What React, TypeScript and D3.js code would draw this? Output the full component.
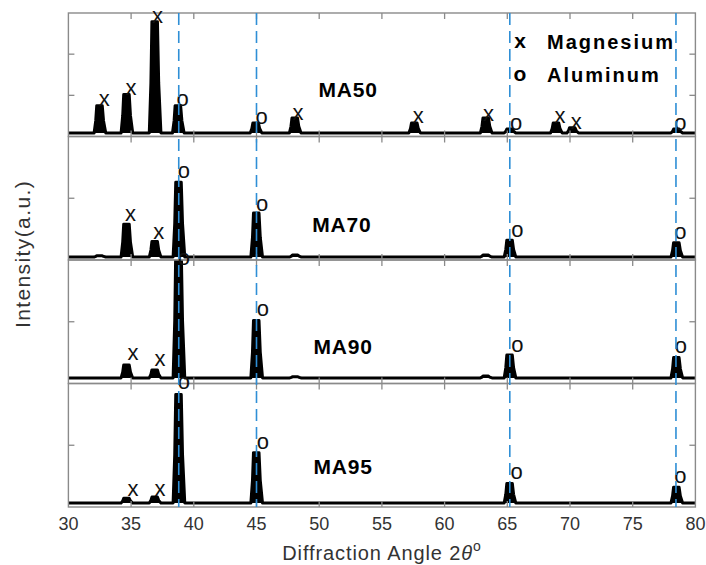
import React from "react";
import * as d3 from "d3";

const W = 706;
const H = 565;
const PLOT = { left: 68.4, right: 695.4, top: 13, bottom: 507 };

const sampleNames = ["MA50", "MA70", "MA90", "MA95"];
const xTicks = [30, 35, 40, 45, 50, 55, 60, 65, 70, 75, 80];
const refLines = [38.8, 45.0, 65.2, 78.45];

// baseline level of each trace (fraction of panel height)
const baselines = [0.028, 0.024, 0.045, 0.032];

// peak angles / relative heights
const ma50Angles = [32.5, 34.65, 36.9, 38.75, 44.95, 48.07, 57.6, 63.3, 65.2, 68.9, 70.2, 78.5];
const ma50Heights = [0.25, 0.34, 0.93, 0.25, 0.11, 0.15, 0.11, 0.15, 0.06, 0.11, 0.07, 0.06];
const ma70Angles = [32.5, 34.65, 36.9, 38.8, 45.0, 48.1, 63.3, 65.2, 78.5];
const ma70Heights = [0.035, 0.29, 0.15, 0.63, 0.38, 0.04, 0.04, 0.16, 0.14];
const ma90Angles = [34.65, 36.9, 38.8, 45.0, 48.1, 63.3, 65.2, 78.5];
const ma90Heights = [0.15, 0.11, 1.08, 0.51, 0.055, 0.06, 0.23, 0.21];
const ma95Angles = [34.65, 36.9, 38.8, 45.0, 65.2, 78.5];
const ma95Heights = [0.07, 0.08, 0.91, 0.44, 0.19, 0.16];

// phase marks: angle, level, symbol
const ma50Marks: [number, number, string][] = [
  [32.85, 0.29, "x"], [35.0, 0.38, "x"], [37.1, 0.97, "x"], [39.1, 0.29, "o"],
  [45.4, 0.15, "o"], [48.3, 0.18, "x"], [57.9, 0.16, "x"], [63.5, 0.17, "x"],
  [65.7, 0.1, "o"], [69.2, 0.16, "x"], [70.5, 0.11, "x"], [78.8, 0.1, "o"],
];
const ma70Marks: [number, number, string][] = [
  [34.95, 0.36, "x"], [37.2, 0.22, "x"], [39.2, 0.71, "o"], [45.45, 0.445, "o"],
  [65.8, 0.23, "o"], [78.8, 0.22, "o"],
];
const ma90Marks: [number, number, string][] = [
  [35.15, 0.24, "x"], [37.3, 0.19, "x"], [39.2, 1.01, "o"], [45.5, 0.59, "o"],
  [65.8, 0.30, "o"], [78.85, 0.29, "o"],
];
const ma95Marks: [number, number, string][] = [
  [35.15, 0.14, "x"], [37.3, 0.14, "x"], [39.2, 1.0, "o"], [45.5, 0.52, "o"],
  [65.75, 0.27, "o"], [78.8, 0.245, "o"],
];

// label positions of sample names (angle, level)
const nameAngles = [52.3, 51.8, 51.9, 51.9];
const nameLevels = [0.38, 0.29, 0.30, 0.33];

const legendSymbols = ["x", "o"];
const legendNames = ["Magnesium", "Aluminum"];

const panels = [
  { angles: ma50Angles, heights: ma50Heights, marks: ma50Marks, yTicks: [1 / 3, 2 / 3] },
  { angles: ma70Angles, heights: ma70Heights, marks: ma70Marks, yTicks: [0.5] },
  { angles: ma90Angles, heights: ma90Heights, marks: ma90Marks, yTicks: [0.5] },
  { angles: ma95Angles, heights: ma95Heights, marks: ma95Marks, yTicks: [0.5] },
];

const FONT = "'Liberation Sans', Arial, Helvetica, sans-serif";
const AXIS = "#8a8a8a";

export default function App() {
  const x = d3.scaleLinear().domain([30, 80]).range([PLOT.left, PLOT.right]);
  const band = d3
    .scaleBand<number>()
    .domain(d3.range(panels.length))
    .range([PLOT.top, PLOT.bottom])
    .paddingInner(0);
  const ph = band.bandwidth();

  return (
    <svg width={W} height={H} style={{ display: "block", position: "absolute", left: 0, top: 0, background: "#fff" }}>
      <defs>
        {panels.map((_, i) => (
          <clipPath id={`clip${i}`} key={i}>
            <rect x={PLOT.left} y={band(i)!} width={PLOT.right - PLOT.left} height={ph} />
          </clipPath>
        ))}
      </defs>
      {panels.map((p, i) => {
        const top = band(i)!;
        const y = d3.scaleLinear().domain([0, 1]).range([top + ph, top]);
        const b = baselines[i];
        const pts: [number, number][] = [[30, b]];
        p.angles.forEach((c, k) => {
          const h = p.heights[k];
          pts.push([c - 0.45, b]);
          pts.push([c - 0.32, b + (h - b) * 0.45]);
          pts.push([c - 0.24, h]);
          pts.push([c + 0.2, h]);
          pts.push([c + 0.3, b + (h - b) * 0.45]);
          pts.push([c + 0.48, b]);
        });
        pts.push([80, b]);
        const line = d3
          .line<[number, number]>()
          .x((d) => x(d[0]))
          .y((d) => y(d[1]));
        return (
          <g key={i}>
            <g clipPath={`url(#clip${i})`}>
              <path d={line(pts)!} fill="#000" stroke="#000" strokeWidth={3} strokeLinejoin="round" />
            </g>
            <rect x={PLOT.left} y={top} width={PLOT.right - PLOT.left} height={ph} fill="none" stroke={AXIS} strokeWidth={1.4} />
            {xTicks.slice(1, -1).map((t) => (
              <g key={t}>
                <line x1={x(t)} x2={x(t)} y1={top} y2={top + 6} stroke={AXIS} strokeWidth={1.3} />
                <line x1={x(t)} x2={x(t)} y1={top + ph} y2={top + ph - 6} stroke={AXIS} strokeWidth={1.3} />
              </g>
            ))}
            {p.yTicks.map((t) => (
              <g key={t}>
                <line x1={PLOT.left} x2={PLOT.left + 6} y1={y(t)} y2={y(t)} stroke={AXIS} strokeWidth={1.3} />
                <line x1={PLOT.right} x2={PLOT.right - 6} y1={y(t)} y2={y(t)} stroke={AXIS} strokeWidth={1.3} />
              </g>
            ))}
            {p.marks.map(([a, lv, s], k) => (
              <text
                key={k}
                x={x(a)}
                y={y(lv)}
                textAnchor="middle"
                dominantBaseline="middle"
                fontFamily={FONT}
                fontSize={22}
                fill="#111"
              >
                {s}
              </text>
            ))}
            <text
              x={x(nameAngles[i])}
              y={y(nameLevels[i])}
              textAnchor="middle"
              dominantBaseline="central"
              fontFamily={FONT}
              fontWeight="bold"
              fontSize={21}
              letterSpacing={0.8}
              fill="#000"
            >
              {sampleNames[i]}
            </text>
          </g>
        );
      })}
      {refLines.map((r) => (
        <line
          key={r}
          x1={x(r)}
          x2={x(r)}
          y1={PLOT.top}
          y2={PLOT.bottom}
          stroke="#2f8fd6"
          strokeWidth={1.6}
          strokeDasharray="12,6"
        />
      ))}
      {legendSymbols.map((s, k) => (
        <g key={s} fontFamily={FONT} fontWeight="bold" fontSize={20} fill="#000">
          <text x={520} y={42 + k * 33} textAnchor="middle" dominantBaseline="middle" fontSize={21}>
            {s}
          </text>
          <text x={547} y={42 + k * 33} dominantBaseline="central" letterSpacing={2}>
            {legendNames[k]}
          </text>
        </g>
      ))}
      {xTicks.map((t) => (
        <text
          key={t}
          x={x(t)}
          y={524}
          textAnchor="middle"
          dominantBaseline="central"
          fontFamily={FONT}
          fontSize={18}
          fill="#333"
        >
          {t}
        </text>
      ))}
      <text x={382} y={553} textAnchor="middle" dominantBaseline="central" fontFamily={FONT} fontSize={20} letterSpacing={0.9} fill="#333">
        Diffraction Angle 2<tspan fontStyle="italic">θ</tspan>
        <tspan fontSize={14} dy={-7}>o</tspan>
      </text>
      <text
        transform={`translate(22,254) rotate(-90)`}
        textAnchor="middle"
        dominantBaseline="central"
        fontFamily={FONT}
        fontSize={21}
        letterSpacing={1.4}
        fill="#333"
      >
        Intensity(a.u.)
      </text>
    </svg>
  );
}
